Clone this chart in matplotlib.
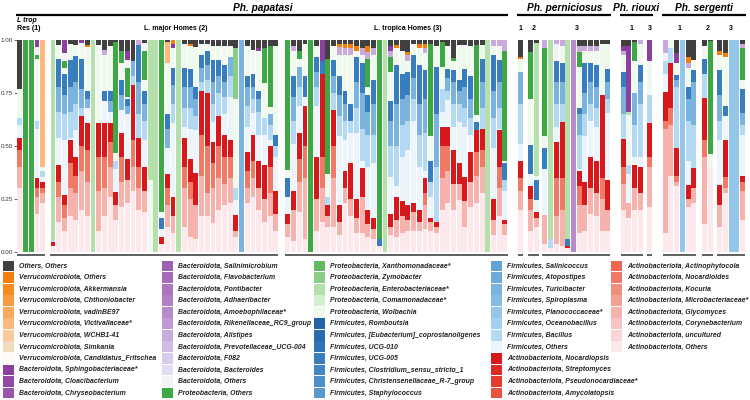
import numpy as np
import matplotlib
matplotlib.use("Agg")
from matplotlib import pyplot as plt
from matplotlib.patches import Rectangle
import matplotlib.transforms as mtransforms

plt.rcParams['font.family'] = ['Liberation Sans', 'DejaVu Sans']

# taxa in legend order (top of each bar = first entry)
taxa_labels = [
    "Others, Others",
    "Verrucomicrobiota, Others", "Verrucomicrobiota, Akkermansia",
    "Verrucomicrobiota, Chthoniobacter", "Verrucomicrobiota, vadinBE97",
    "Verrucomicrobiota, Victivallaceae*", "Verrucomicrobiota, WCHB1-41",
    "Verrucomicrobiota, Simkania", "Verrucomicrobiota, Candidatus_Fritschea",
    "Bacteroidota, Sphingobacteriaceae*", "Bacteroidota, Cloacibacterium",
    "Bacteroidota, Chryseobacterium", "Bacteroidota, Salinimicrobium",
    "Bacteroidota, Flavobacterium", "Bacteroidota, Pontibacter",
    "Bacteroidota, Adhaeribacter", "Bacteroidota, Amoebophilaceae*",
    "Bacteroidota, Rikenellaceae_RC9_group", "Bacteroidota, Alistipes",
    "Bacteroidota, Prevotellaceae_UCG-004", "Bacteroidota, F082",
    "Bacteroidota, Bacteroides", "Bacteroidota, Others",
    "Proteobacteria, Others", "Proteobacteria, Xanthomonadaceae*",
    "Proteobacteria, Zymobacter", "Proteobacteria, Enterobacteriaceae*",
    "Proteobacteria, Comamonadaceae*", "Proteobacteria, Wolbachia",
    "Firmicutes, Romboutsia", "Firmicutes, [Eubacterium]_coprostanoligenes",
    "Firmicutes, UCG-010", "Firmicutes, UCG-005",
    "Firmicutes, Clostridium_sensu_stricto_1", "Firmicutes, Christensenellaceae_R-7_group",
    "Firmicutes, Staphylococcus", "Firmicutes, Salinicoccus",
    "Firmicutes, Atopostipes", "Firmicutes, Turicibacter",
    "Firmicutes, Spiroplasma", "Firmicutes, Planococcaceae*",
    "Firmicutes, Oceanobacillus", "Firmicutes, Bacillus", "Firmicutes, Others",
    "Actinobacteriota, Nocardiopsis", "Actinobacteriota, Streptomyces",
    "Actinobacteriota, Pseudonocardiaceae*", "Actinobacteriota, Amycolatopsis",
    "Actinobacteriota, Actinophytocola", "Actinobacteriota, Nocardioides",
    "Actinobacteriota, Kocuria", "Actinobacteriota, Microbacteriaceae*",
    "Actinobacteriota, Glycomyces", "Actinobacteriota, Corynebacterium",
    "Actinobacteriota, uncultured", "Actinobacteriota, Others",
]

taxa_colors = [
    "#404040",
    "#f57f0e", "#f78a22", "#f89a42", "#f9a95e", "#fbb97c", "#fcca9a", "#efdcbc", "#fefaf3",
    "#8b3f9e", "#9249a5", "#9a55ac", "#a060b4", "#a66bb9", "#ab74be", "#b17fc4", "#b78bca",
    "#bf9ad2", "#c8abdc", "#d0bce6", "#d8ccee", "#e0dcf4", "#f3f2f9",
    "#3ea845", "#63b862", "#8bcc87", "#b3e0ab", "#d3efcd", "#f0f9ee",
    "#2363a5", "#296bad", "#3074b6", "#387dbd", "#4286c3", "#4c8fc9", "#589ace",
    "#62a2d4", "#6daad9", "#79b3de", "#86bce3", "#93c6e8", "#a3d0ee", "#b4daf3", "#edf5fc",
    "#d7191c", "#dd2b25", "#e23d2f", "#e8523f", "#ed6751", "#f07a66", "#f28d7c",
    "#f4a095", "#f6b3ad", "#f8c4c3", "#fad4d7", "#fde8ec",
]

# short codes used in the sample strings below
codes = {
    "K": "Others, Others",
    "O": "Verrucomicrobiota, Others",
    "F": "Verrucomicrobiota, Victivallaceae*",
    "U": "Bacteroidota, Sphingobacteriaceae*",
    "A": "Bacteroidota, Amoebophilaceae*",
    "V": "Bacteroidota, Alistipes",
    "Y": "Bacteroidota, Others",
    "G": "Proteobacteria, Others",
    "Z": "Proteobacteria, Zymobacter",
    "J": "Proteobacteria, Enterobacteriaceae*",
    "X": "Proteobacteria, Wolbachia",
    "B": "Firmicutes, UCG-005",
    "S": "Firmicutes, Turicibacter",
    "T": "Firmicutes, Planococcaceae*",
    "C": "Firmicutes, Bacillus",
    "W": "Firmicutes, Others",
    "R": "Actinobacteriota, Nocardiopsis",
    "M": "Actinobacteriota, Nocardioides",
    "L": "Actinobacteriota, Glycomyces",
    "P": "Actinobacteriota, Others",
}

# each sample: taxon code + cumulative top (bottom -> top)
res_bars = [
    "P.30 L.40 M.48 R.54 W.60 C.63 X.77 K1",
    "G1",
    "G1",
    "P.18 L.26 M.30 R.35 W.58 C.62 X.91 G.93 Y.965 U1",
    "P.23 L.28 M.30 R.33 W.355 C.38 X.40 F1",
]

major_bars = [
    "P.03 R.045 C.055 J1",
    "P.14 L.26 M.33 R.41 W.54 C.66 S.78 B.91 X.975 K1",
    "P.10 L.16 M.22 R.27 W.53 C.65 S.74 B.84 X.87 G.90 Y.94 U1",
    "P.17 L.30 M.42 R.53 W.54 C.66 S.78 B.905 X.98 K1",
    "P.15 L.28 M.36 R.45 W.575 C.70 S.80 B.925 X.975 K1",
    "P.20 L.38 M.50 R.64 C.68 S.77 B.91 X.985 U1",
    "P.17 L.33 M.48 R.61 W.68 S.72 B.76 X.965 O.975 K1",
    "J1",
    "P.10 L.29 M.45 R.61 X.975 K1",
    "P.17 L.30 M.45 R.61 W.71 B.76 X.93 V.955 K1",
    "P.26 L.40 M.52 R.61 W.66 S.71 B.76 X.97 K1",
    "P.15 L.22 R.285 W.39 C.43 X.465 G.99 K1",
    "P.21 L.33 M.45 R.56 W.67 S.74 B.81 X.89 G.95 K1",
    "P.23 L.34 R.44 W.65 S.69 B.72 X.73 G.87 Y.905 U.95 K1",
    "P.29 L.40 M.53 R.79 C.83 S.90 K1",
    "P.20 L.30 M.40 R.54 C.65 S.80 B.975 V1",
    "P.19 L.29 R.40 W.53 C.62 S.70 B.76 X.81 G.95 Y.985 K1",
    "X.34 J1",
    "J1",
    "P.04 R.07 W.11 B.16 X.19 G1",
    "P.12 L.22 M.30 R.37 W.49 S.58 B.65 X.89 F.99 K1",
    "P.09 L.17 R.26 W.61 C.70 S.79 B.87 X.96 U.98 O1",
    "J1",
    "P.12 L.30 M.40 R.54 W.59 C.68 S.78 B.87 X.98 K1",
    "P.07 L.25 M.33 R.44 W.58 C.68 S.78 B.865 X.97 O.98 K1",
    "P.06 L.22 R.375 W.575 C.64 S.72 B.78 X.965 K1",
    "P.17 L.36 M.55 R.76 C.80 S.87 B.93 X.98 K1",
    "P.17 L.28 M.50 R.75 C.81 S.88 B.95 X.98 K1",
    "P.135 L.30 M.42 R.52 W.615 C.70 S.80 B.905 X.97 K1",
    "P.20 L.35 M.50 R.64 C.75 S.83 B.905 X.97 K1",
    "P.22 L.32 M.45 R.55 W.65 C.73 S.80 B.88 X.97 K1",
    "P.23 L.35 M.45 R.53 W.73 C.83 S.92 X.97 K1",
    "P.07 L.10 R.175 W.245 C.30 X.72 Z.96 K1",
    "S1",
    "P.23 L.30 M.38 R.47 W.59 C.69 S.78 B.83 X.97 K1",
    "P.26 L.35 M.43 R.55 W.655 C.72 S.78 B.84 X.955 K1",
    "P.20 L.30 R.43 W.55 C.66 S.72 B.76 X.95 U.96 K1",
    "P.14 L.25 R.41 W.55 C.63 X.795 G.96 K1",
    "P.17 L.28 M.40 R.50 W.53 C.60 S.65 X.685 G.97 K1",
    "P.10 L.18 R.29 W.45 C.50 B.55 X.97 K1",
]

tropica_bars = [
    "P.07 L.13 R.18 W.26 B.35 X.385 G1",
    "P.05 L.20 R.29 W.51 C.62 S.73 B.83 X.95 V.97 K1",
    "P.19 L.33 M.44 R.56 W.69 C.78 S.875 X.91 G.95 K1",
    "P.06 L.35 M.50 R.69 W.73 B.83 X.98 K1",
    "G1",
    "P.10 L.25 R.45 W.69 C.78 S.85 B.92 X.97 K1",
    "P.14 L.30 M.45 R.84 B.90 U1",
    "P.12 L.17 R.22 C.26 X.37 G.91 K1",
    "P.12 L.35 M.50 R.67 C.75 S.83 B.905 X.97 K1",
    "P.08 L.14 R.22 W.545 C.64 S.74 B.83 X.93 V.965 O.98 K1",
    "P.23 L.30 R.38 W.53 C.62 S.70 B.76 X.93 V.96 O.98 K1",
    "P.17 L.25 R.42 W.56 C.62 B.70 X.93 V.96 O.98 K1",
    "P.09 L.16 R.25 W.56 C.68 S.80 B.92 X.95 O.97 K1",
    "P.09 L.26 R.395 W.43 C.58 S.75 B.89 X.93 V.96 K1",
    "P.07 L.13 R.20 W.40 C.55 S.66 B.74 X.78 G.91 V.945 O.97 K1",
    "P.06 L.11 R.16 W.42 C.55 S.70 B.81 X.93 V.96 K1",
    "P.03 B.06 G1",
    "J1",
    "P.08 L.12 R.18 W.355 C.50 S.62 B.71 X.85 G.92 V.95 U.97 K1",
    "P.07 L.15 R.26 W.31 C.50 S.70 B.88 X.96 O.975 K1",
    "P.09 L.17 R.24 W.45 C.60 S.72 B.84 X.95 K1",
    "P.10 L.15 R.22 W.48 C.62 S.74 B.85 X.90 V.93 O.945 K1",
    "P.10 L.19 R.23 W.62 C.72 S.82 B.93 X.98 K1",
    "P.10 L.14 R.20 W.40 C.55 S.70 B.88 X.96 O.98 K1",
    "P.11 L.22 M.28 R.35 W.38 C.56 S.72 B.86 X.94 V.96 O.98 K1",
    "P.10 L.14 R.16 W.26 C.33 B.43 X.545 G.98 K1",
    "P.09 L.12 R.14 C.40 S.65 B.875 X.97 K1",
    "P.20 L.35 M.50 R.59 W.66 C.77 X.875 G.99 K1",
    "P.23 L.38 M.50 R.59 W.715 C.76 S.82 B.865 X.97 K1",
    "P.20 L.32 R.48 W.59 C.70 S.80 B.86 X.90 G.915 K1",
    "P.245 L.32 R.42 W.615 C.70 S.76 B.81 X.975 K1",
    "P.12 L.24 R.355 W.59 C.68 S.78 B.865 X.975 K1",
    "P.21 L.33 R.47 W.55 C.63 S.72 B.83 X.97 K1",
    "P.23 L.36 M.47 R.575 B.615 X.645 G.975 K1",
    "P.28 L.40 M.48 R.58 C.68 S.80 B.91 X.975 K1",
    "J1",
    "P.08 L.15 R.25 W.49 C.63 S.76 B.93 X.97 V1",
    "P.17 L.30 M.40 R.575 W.58 C.68 S.80 B.905 X.97 V1",
    "P.08 L.13 R.15 W.29 C.34 B.42 X.43 G.95 V1",
]

pern1_bars = ["P.20 L.29 M.35 R.43 W.51 C.70 S.85 X.91 O.92 K1"]
pern2_bars = [
    "P.10 L.20 M.25 R.31 W.37 B.505 X.72 G.945 K1",
    "P.12 L.16 R.19 W.245 B.34 X.36 J.985 K1",
]
pern3_bars = [
    "P.04 L.175 W.39 B.49 X.545 G.96 V1",
    "P.02 C.06 J1",
    "P.04 L.17 M.35 R.52 W.59 C.70 S.80 B.90 Y.98 V1",
    "P.03 L.20 M.35 R.615 C.70 S.80 B.89 X.97 V1",
    "P.02 R.03 B.06 J1",
    "A1",
    "P.09 L.22 M.31 R.38 W.39 C.55 S.65 B.68 X.875 G.945 V.97 K1",
    "P.10 L.22 R.33 W.545 C.65 S.75 B.89 X.95 V.97 K1",
    "P.18 L.30 R.45 W.62 C.70 S.80 B.89 X.95 V.97 K1",
    "P.17 L.28 R.43 W.59 C.68 S.78 B.88 X.95 V.97 K1",
    "P.10 L.25 M.35 R.74 X.98 K1",
    "P.10 L.20 R.34 W.655 C.72 S.80 B.865 X.98 K1",
]
riouxi1_bars = [
    "P.20 L.32 M.40 R.535 C.65 S.78 B.85 X.93 V.95 U.97 K1",
    "P.16 L.23 C.27 W.41 X.645 J.66 U.97 K1",
    "P.20 L.30 R.41 W.45 C.60 S.75 X.90 G.99 K1",
    "P.20 L.28 R.40 W.45 C.70 S.80 B.88 X.98 V1",
]
riouxi3_bars = ["P.21 L.40 M.45 R.61 C.74 X.90 U1"]
serg1_bars = [
    "P.09 L.58 M.62 R.755 W.84 C.90 Y.94 V1",
    "P.36 L.60 M.68 R.89 C.96 X1",
    "P.31 L.33 M.36 R.49 C.78 S.81 B.835 X.89 U.94 K1",
    "T1",
    "P.21 L.25 R.315 W.43 C.62 S.72 B.78 X.87 V.89 O.92 K1",
    "P.23 L.30 R.395 C.60 S.80 B.86 X.905 K1",
]
serg2_bars = [
    "P.13 L.45 M.53 R.725 C.84 B.91 X.97 K1",
    "P.40 X.46 G.995 K1",
]
serg3_bars = [
    "P.12 L.22 R.315 W.53 C.62 S.74 B.86 X.93 O.95 K1",
    "P.28 L.30 M.355 R.53 W.64 B.69 X.92 O.94 K1",
    "T1",
    "T1",
    "P.15 L.29 M.33 R.36 W.55 C.60 S.655 B.77 X.81 G.96 V.98 K1",
]

# (species, sub-group label, samples)
subgroups = [
    ("Ph. papatasi", "Res (1)", res_bars),
    ("Ph. papatasi", "L. major Homes (2)", major_bars),
    ("Ph. papatasi", "L. tropica Homes (3)", tropica_bars),
    ("Ph. perniciosus", "1", pern1_bars),
    ("Ph. perniciosus", "2", pern2_bars),
    ("Ph. perniciosus", "3", pern3_bars),
    ("Ph. riouxi", "1", riouxi1_bars),
    ("Ph. riouxi", "3", riouxi3_bars),
    ("Ph. sergenti", "1", serg1_bars),
    ("Ph. sergenti", "2", serg2_bars),
    ("Ph. sergenti", "3", serg3_bars),
]
gaps = [0, 0.8, 1.1, 1.75, 0.75, 0.5, 1.7, 0.65, 1.7, 0.9, 0.65]


def parse(sample):
    comp = {}
    prev = 0.0
    for tok in sample.split():
        top = float(tok[1:])
        name = codes[tok[0]]
        comp[name] = comp.get(name, 0.0) + top - prev
        prev = top
    return comp


# x layout
xs, samples, spans = [], [], []
cur = 0.0
for (sp, lab, bars), g in zip(subgroups, gaps):
    cur += g
    start = cur
    for b in bars:
        xs.append(cur + 0.5)
        samples.append(parse(b))
        cur += 1
    spans.append((sp, lab, start, cur))
total = cur
xs = np.array(xs)

abund = np.array([[s.get(t, 0.0) for s in samples] for t in taxa_labels])

fig = plt.figure(figsize=(7.5, 4), dpi=100)
ax = fig.add_axes([17 / 750, 148 / 400, 728.5 / 750, 212 / 400])

bottom = np.zeros(len(xs))
for i in range(len(taxa_labels) - 1, -1, -1):
    h = abund[i]
    if h.any():
        ax.bar(xs, h, bottom=bottom, width=0.86, color=taxa_colors[i], linewidth=0)
    bottom += h

ax.set_xlim(0, total)
ax.set_ylim(0, 1)
ax.set_xticks([])
ax.set_yticks([0, 0.25, 0.5, 0.75, 1.0])
ax.set_yticklabels(["0.00", "0.25", "0.50", "0.75", "1.00"])
ax.tick_params(axis='y', labelsize=4.5, length=2, width=0.5, pad=1, colors="#333333")
for s in ax.spines.values():
    s.set_visible(False)

trans = mtransforms.blended_transform_factory(ax.transData, ax.transAxes)

# underlines per sub-group
for sp, lab, a, b in spans:
    ax.plot([a + 0.05, b - 0.05], [-0.012, -0.012], color="#444444", lw=1.2,
            transform=trans, clip_on=False, solid_capstyle="butt")

# species titles with lines
species = []
for sp, lab, a, b in spans:
    if species and species[-1][0] == sp:
        species[-1][2] = b
    else:
        species.append([sp, a, b])
for sp, a, b in species:
    ax.plot([a - 0.1, b + 0.1], [1.118, 1.118], color="black", lw=1.6,
            transform=trans, clip_on=False, solid_capstyle="butt")
    ax.text((a + b) / 2, 1.152, sp, transform=trans, ha="center", va="center",
            fontsize=7.3, fontweight="bold", fontstyle="italic")

# sub-group labels
for sp, lab, a, b in spans:
    if sp != "Ph. papatasi":
        ax.text((a + b) / 2, 1.052, lab, transform=trans, ha="center", va="center",
                fontsize=5, fontweight="bold")
    elif lab.startswith("Res"):
        ax.text(a, 1.094, "L trop", transform=trans, ha="left", va="center",
                fontsize=5, fontweight="bold", fontstyle="italic")
        ax.text(a, 1.052, lab, transform=trans, ha="left", va="center",
                fontsize=5, fontweight="bold")
    else:
        ax.text(a + 0.55 * (b - a), 1.052, lab, transform=trans, ha="center",
                va="center", fontsize=5, fontweight="bold")

# legend, five columns drawn by hand
rows_per_col = [12, 12, 12, 12, 8]
sw_x = [3, 162, 314, 491, 611]
k = 0
for c, n in enumerate(rows_per_col):
    for r in range(n):
        yc = 266 + r * 11.55
        fig.add_artist(Rectangle((sw_x[c] / 750, 1 - (yc + 5.4) / 400), 11 / 750, 10.8 / 400,
                                 transform=fig.transFigure, facecolor=taxa_colors[k],
                                 edgecolor="none"))
        fig.text((sw_x[c] + 16) / 750, 1 - yc / 400, taxa_labels[k], ha="left", va="center",
                 fontsize=4.95, fontstyle="italic", fontweight="bold", color="#222222")
        k += 1

fig.savefig("out.png", dpi=100)
